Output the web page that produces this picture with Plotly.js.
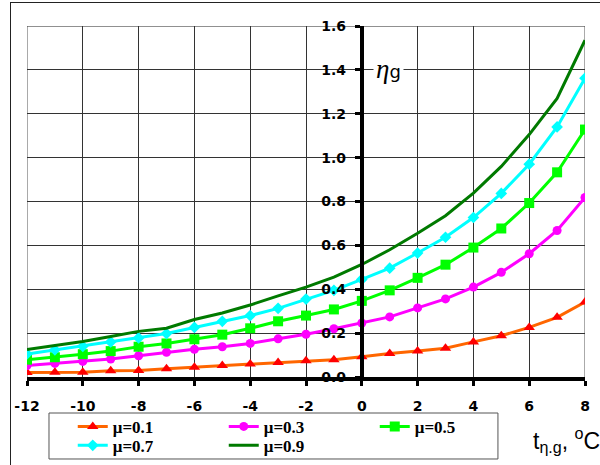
<!DOCTYPE html>
<html>
<head>
<meta charset="utf-8">
<script src="https://cdn.plot.ly/plotly-3.0.1.min.js"></script>
<style>
  html, body { margin: 0; padding: 0; background: #fff; }
  #wrap { position: relative; width: 600px; height: 465px; overflow: hidden; }
  #chart { position: absolute; left: 0; top: 0; width: 600px; height: 465px; }
  #frame { position: absolute; left: 10px; top: 2px; width: 620px; height: 480px;
           border-left: 1.5px solid #222; border-top: 1.5px solid #222; pointer-events: none; }
</style>
</head>
<body>
<div id="wrap"><div id="chart"></div><div id="frame"></div></div>
<script>
// Temperature t_η.g, °C
const temps = [-12, -11, -10, -9, -8, -7, -6, -5, -4, -3, -2, -1, 0, 1, 2, 3, 4, 5, 6, 7, 8];
// η_g for each μ
const mu01 = [0.020, 0.022, 0.022, 0.029, 0.030, 0.038, 0.045, 0.052, 0.059, 0.066, 0.074, 0.079, 0.092, 0.107, 0.118, 0.131, 0.160, 0.188, 0.226, 0.272, 0.342];
const mu03 = [0.052, 0.062, 0.071, 0.082, 0.097, 0.113, 0.126, 0.138, 0.153, 0.174, 0.195, 0.220, 0.246, 0.274, 0.315, 0.356, 0.410, 0.477, 0.562, 0.668, 0.818];
const mu05 = [0.079, 0.090, 0.104, 0.118, 0.138, 0.153, 0.172, 0.193, 0.222, 0.254, 0.280, 0.308, 0.347, 0.395, 0.452, 0.512, 0.590, 0.677, 0.793, 0.933, 1.128];
const mu07 = [0.105, 0.124, 0.140, 0.160, 0.178, 0.198, 0.226, 0.254, 0.280, 0.313, 0.355, 0.395, 0.445, 0.496, 0.565, 0.637, 0.727, 0.837, 0.970, 1.140, 1.362];
const mu09 = [0.125, 0.143, 0.162, 0.185, 0.208, 0.222, 0.262, 0.292, 0.328, 0.370, 0.410, 0.455, 0.513, 0.580, 0.655, 0.735, 0.838, 0.960, 1.105, 1.270, 1.535];
const seriesNames = ['μ=0.1', 'μ=0.3', 'μ=0.5', 'μ=0.7', 'μ=0.9'];
const xTicks = [-12, -10, -8, -6, -4, -2, 0, 2, 4, 6, 8];
const yTicks = [0.0, 0.2, 0.4, 0.6, 0.8, 1.0, 1.2, 1.4, 1.6];

const traces = [
  {x: temps, y: mu01, name: seriesNames[0], mode: 'lines+markers', legend: 'legend',
   line: {color: '#FF6600', width: 3},
   marker: {symbol: 'triangle-up', size: 10, color: '#FF0000'}},
  {x: temps, y: mu03, name: seriesNames[1], mode: 'lines+markers', legend: 'legend',
   line: {color: '#FF00FF', width: 3},
   marker: {symbol: 'circle', size: 9, color: '#FF00FF'}},
  {x: temps, y: mu05, name: seriesNames[2], mode: 'lines+markers', legend: 'legend',
   line: {color: '#00FF00', width: 3},
   marker: {symbol: 'square', size: 10, color: '#00FF00'}},
  {x: temps, y: mu07, name: seriesNames[3], mode: 'lines+markers', legend: 'legend2',
   line: {color: '#00FFFF', width: 3},
   marker: {symbol: 'diamond', size: 9, color: '#00FFFF'}},
  {x: temps, y: mu09, name: seriesNames[4], mode: 'lines', legend: 'legend2',
   line: {color: '#007A00', width: 3}}
];

const tickFont = {family: 'DejaVu Sans', size: 14, color: '#000', weight: 'bold'};
const legFont = {family: 'Liberation Serif', size: 17, color: '#000', weight: 'bold'};

const legendBase = {
  orientation: 'h', xanchor: 'left', yanchor: 'middle',
  entrywidth: 106, borderwidth: 0, bgcolor: 'rgba(0,0,0,0)',
  font: legFont, itemwidth: 30, tracegroupgap: 0
};

const layout = {
  width: 600, height: 465,
  margin: {l: 27, r: 15, t: 26, b: 88, autoexpand: false},
  paper_bgcolor: '#fff', plot_bgcolor: '#fff',
  showlegend: true,
  xaxis: {
    range: [-12, 8], tickvals: xTicks, ticktext: xTicks.map(String),
    showgrid: true, gridcolor: '#333', gridwidth: 1,
    zeroline: false, showline: true, linecolor: '#000', linewidth: 4,
    ticks: 'outside', ticklen: 5, tickwidth: 3, tickcolor: '#000',
    tickfont: tickFont, ticklabelstandoff: 8, automargin: false
  },
  yaxis: {
    range: [0, 1.6], tickvals: yTicks, ticktext: yTicks.map(v => v.toFixed(1)),
    anchor: 'free', position: 0.6, side: 'left',
    showgrid: true, gridcolor: '#333', gridwidth: 1,
    zeroline: false, showline: true, linecolor: '#000', linewidth: 4,
    ticks: 'outside', ticklen: 5, tickwidth: 3, tickcolor: '#000',
    tickfont: tickFont, ticklabelstandoff: 6, automargin: false
  },
  legend: Object.assign({}, legendBase, {x: 0.082, y: -0.142}),
  legend2: Object.assign({}, legendBase, {x: 0.082, y: -0.196}),
  shapes: [
    {type: 'line', xref: 'x', yref: 'y', x0: -12, x1: 8, y0: 1.6, y1: 1.6, line: {color: '#222', width: 1}, layer: 'below'},
    {type: 'line', xref: 'x', yref: 'y', x0: -12, x1: -12, y0: 0, y1: 1.6, line: {color: '#555', width: 1}, layer: 'below'},
    {type: 'line', xref: 'x', yref: 'y', x0: 8, x1: 8, y0: 0, y1: 1.6, line: {color: '#555', width: 1}, layer: 'below'},
    {type: 'rect', xref: 'paper', yref: 'paper', x0: 0.0394, x1: 0.844, y0: -0.2336, y1: -0.1026,
     line: {color: '#555', width: 1}, fillcolor: 'rgba(0,0,0,0)'}
  ],
  annotations: [
    {xref: 'x', yref: 'y', x: 0.95, y: 1.405, showarrow: false, bgcolor: '#fff', borderpad: 2,
     text: '<i>η</i><span style="font-family:DejaVu Sans;font-size:18px">g</span>',
     font: {family: 'Liberation Serif', size: 27, color: '#000'}},
    {xref: 'paper', yref: 'paper', x: 1.03, y: -0.18, xanchor: 'right', yanchor: 'middle', showarrow: false,
     text: 't<sub>η.g</sub>, <sup>o</sup>C',
     font: {family: 'Liberation Sans', size: 23, color: '#000'}}
  ]
};

Plotly.newPlot('chart', traces, layout, {displayModeBar: false, staticPlot: true});
</script>
</body>
</html>
